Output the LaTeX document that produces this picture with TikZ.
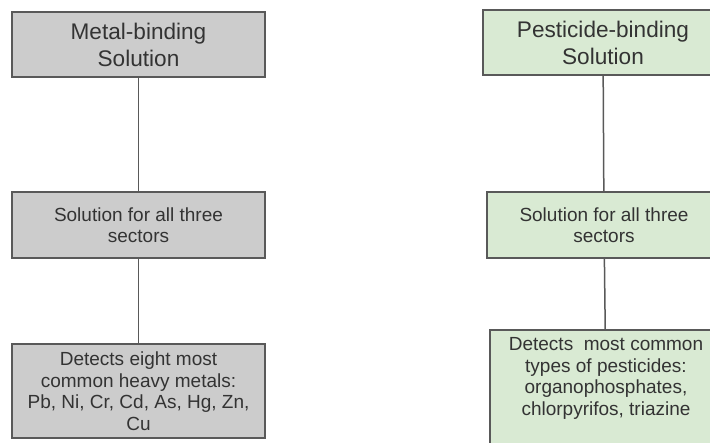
\documentclass[tikz,border=0pt]{standalone}
\usepackage{fontspec}
\setmainfont{Liberation Sans}
\definecolor{metalgray}{HTML}{CCCCCC}
\definecolor{pestgreen}{HTML}{D9EAD3}
\definecolor{edgegray}{HTML}{595959}
\definecolor{inkgray}{HTML}{333333}

\begin{document}
\begin{tikzpicture}[x=1pt,y=-1pt,
    box/.style={draw=edgegray,line width=1.5pt,inner sep=0pt,align=center,
      text=inkgray,font=\fontsize{19}{21.5}\selectfont},
    headbox/.style={box,font=\fontsize{22.6}{27}\selectfont},
    metal/.style={fill=metalgray},
    pest/.style={fill=pestgreen},
    link/.style={draw=edgegray,line width=1.5pt}]
  \useasboundingbox (0,0) rectangle (710,443);
  \clip (0,0) rectangle (710,443);
  \node[headbox,metal,minimum width=253pt,minimum height=65pt] (mtop) at (138.5,44.5)
    {Metal-binding\\Solution};
  \node[box,metal,minimum width=253pt,minimum height=66pt] (mmid) at (138.5,225)
    {Solution for all three\\sectors};
  \node[box,metal,minimum width=253pt,minimum height=94pt] (mbot) at (138.5,391)
    {Detects eight most\\common heavy metals:\\Pb, Ni, Cr, Cd, As, Hg, Zn,\\Cu};
  \node[headbox,pest,minimum width=240pt,minimum height=65pt] (ptop) at (603,42.5)
    {Pesticide-binding\\Solution};
  \node[box,pest,minimum width=234pt,minimum height=66pt] (pmid) at (604,225)
    {Solution for all three\\sectors};
  \node[box,pest,minimum width=232pt,minimum height=130pt] (pbot) at (606,395) {};
  \node[box,draw=none,anchor=north] (pbottext) at (606,337)
    {Detects\ \ most common\\types of pesticides:\\organophosphates,\\chlorpyrifos, triazine};
  \draw[link] (mtop) -- (mmid);
  \draw[link] (mmid) -- (mbot);
  \draw[link] (ptop) -- (pmid);
  \draw[link] (pmid) -- (pbot);
\end{tikzpicture}
\end{document}
